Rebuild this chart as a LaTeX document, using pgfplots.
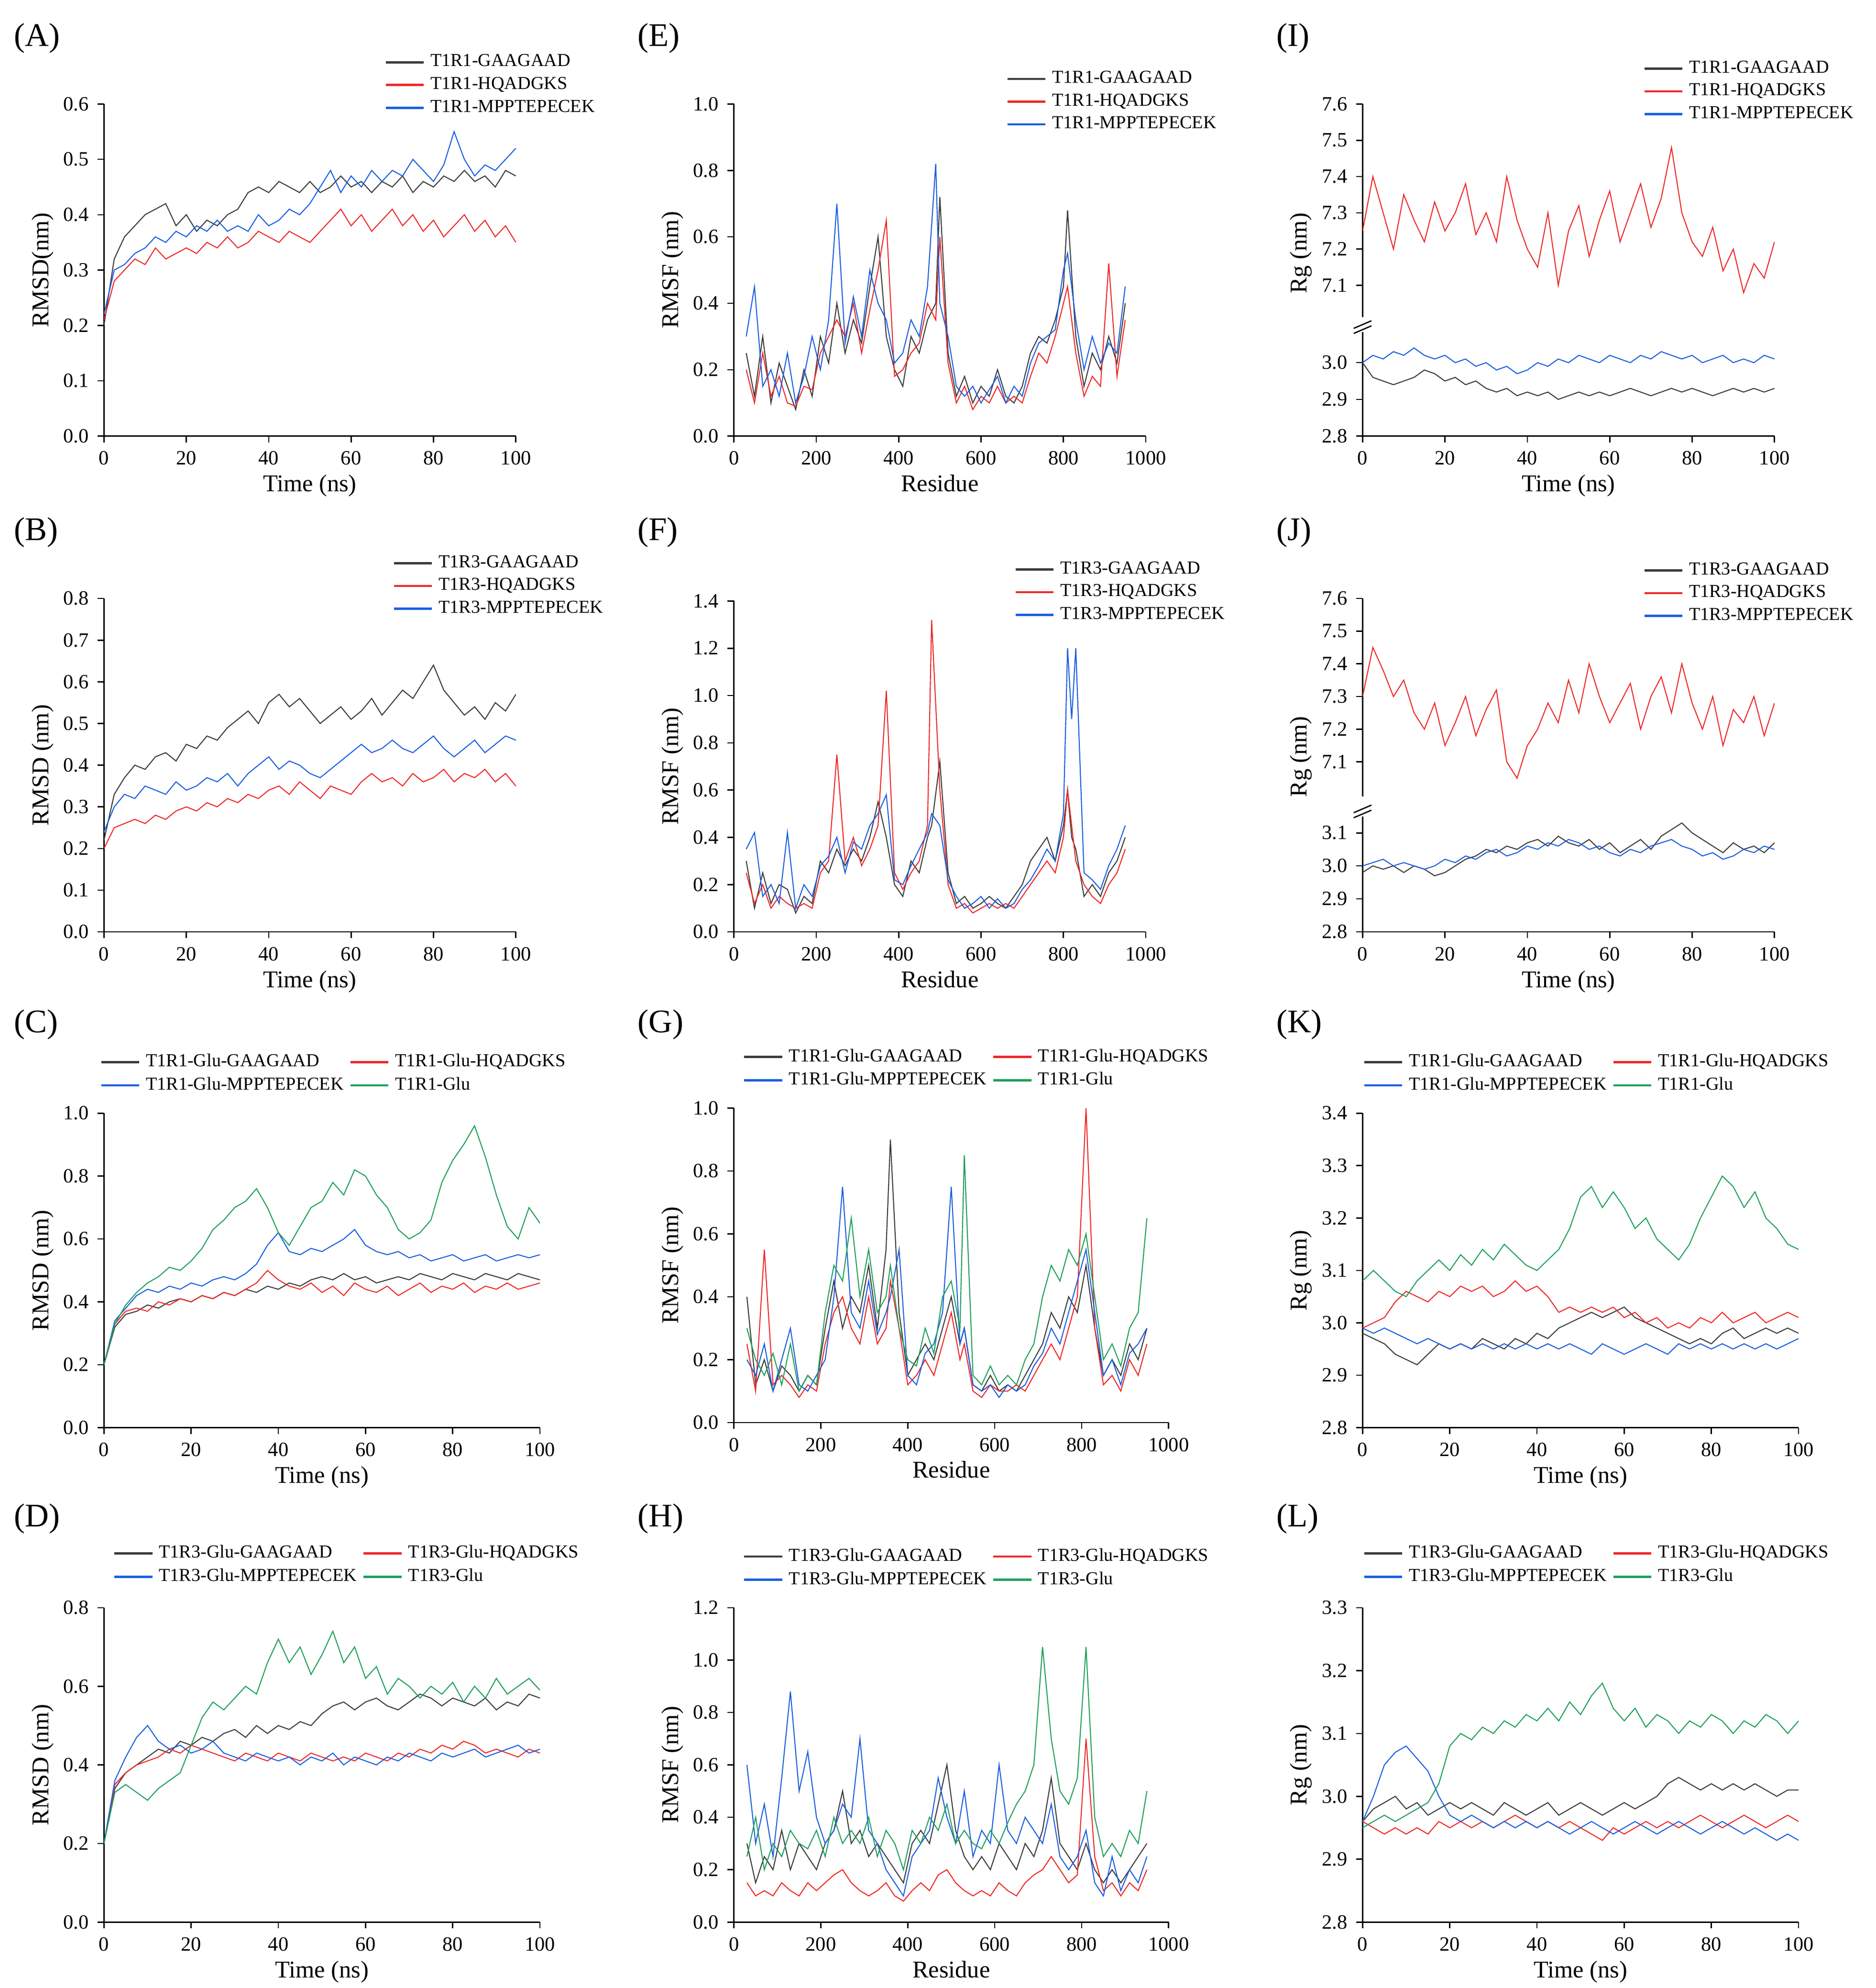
\documentclass[border=0pt]{standalone}
\usepackage{fontspec}
\setmainfont{Liberation Serif}
\usepackage{pgfplots}
\usepackage{pgfplotstable}
\pgfplotsset{compat=1.18}
\definecolor{ck}{RGB}{60,60,60}
\definecolor{cr}{RGB}{240,40,40}
\definecolor{cb}{RGB}{25,95,225}
\definecolor{cg}{RGB}{30,160,90}
\pgfplotsset{panel/.style={scale only axis, axis x line*=bottom, axis y line*=left, tick align=outside,
 axis line style={-,line width=0.5pt}, major tick length=2.5pt, tick style={black,line width=0.5pt},
 every tick label/.append style={font=\fontsize{8}{9}\selectfont},
 label style={font=\fontsize{9.5}{11}\selectfont},
 legend style={draw=none, fill=none, font=\fontsize{7.2}{8}\selectfont, anchor=north west, row sep=0.3pt, column sep=1pt, inner sep=0pt,
   nodes={inner sep=1.2pt}},
 legend cell align=left, legend image code/.code={\draw[line width=0.9pt,#1] (0pt,0pt) -- (15pt,0pt);},
 no markers, every axis plot/.append style={line width=0.4pt},
 /pgf/number format/assume math mode=true,
 yticklabel style={/pgf/number format/.cd, fixed, fixed zerofill, precision=1},
 xticklabel style={/pgf/number format/.cd, set thousands separator={}},
 xlabel style={yshift=3pt}, ylabel style={yshift=-3pt}},
 ts/.style={xmin=0,xmax=100,xtick={0,20,...,100},xlabel={Time (ns)}},
 rf/.style={xmin=0,xmax=1000,xtick={0,200,...,1000},xlabel={Residue}}}
\newcommand\PL[1]{\addplot[ck] table[x index=0,y=k]{#1};\addplot[cr] table[x index=0,y=r]{#1};\addplot[cb] table[x index=0,y=b]{#1};}
\newcommand\PLG[1]{\PL{#1}\addplot[cg] table[x index=0,y=g]{#1};}

\pgfplotstableread{
t k r b
0 0.20 0.21 0.22
2.5 0.32 0.28 0.30
5 0.36 0.30 0.31
7.5 0.38 0.32 0.33
10 0.40 0.31 0.34
12.5 0.41 0.34 0.36
15 0.42 0.32 0.35
17.5 0.38 0.33 0.37
20 0.40 0.34 0.36
22.5 0.37 0.33 0.38
25 0.39 0.35 0.37
27.5 0.38 0.34 0.39
30 0.40 0.36 0.37
32.5 0.41 0.34 0.38
35 0.44 0.35 0.37
37.5 0.45 0.37 0.40
40 0.44 0.36 0.38
42.5 0.46 0.35 0.39
45 0.45 0.37 0.41
47.5 0.44 0.36 0.40
50 0.46 0.35 0.42
52.5 0.44 0.37 0.45
55 0.45 0.39 0.48
57.5 0.47 0.41 0.44
60 0.45 0.38 0.47
62.5 0.46 0.40 0.45
65 0.44 0.37 0.48
67.5 0.46 0.39 0.46
70 0.45 0.41 0.48
72.5 0.47 0.38 0.47
75 0.44 0.40 0.50
77.5 0.46 0.37 0.48
80 0.45 0.39 0.46
82.5 0.47 0.36 0.49
85 0.46 0.38 0.55
87.5 0.48 0.40 0.50
90 0.46 0.37 0.47
92.5 0.47 0.39 0.49
95 0.45 0.36 0.48
97.5 0.48 0.38 0.50
100 0.47 0.35 0.52
}\tA
\pgfplotstableread{
t k r b
0 0.22 0.20 0.24
2.5 0.33 0.25 0.30
5 0.37 0.26 0.33
7.5 0.40 0.27 0.32
10 0.39 0.26 0.35
12.5 0.42 0.28 0.34
15 0.43 0.27 0.33
17.5 0.41 0.29 0.36
20 0.45 0.30 0.34
22.5 0.44 0.29 0.35
25 0.47 0.31 0.37
27.5 0.46 0.30 0.36
30 0.49 0.32 0.38
32.5 0.51 0.31 0.35
35 0.53 0.33 0.38
37.5 0.50 0.32 0.40
40 0.55 0.34 0.42
42.5 0.57 0.35 0.39
45 0.54 0.33 0.41
47.5 0.56 0.36 0.40
50 0.53 0.34 0.38
52.5 0.50 0.32 0.37
55 0.52 0.35 0.39
57.5 0.54 0.34 0.41
60 0.51 0.33 0.43
62.5 0.53 0.36 0.45
65 0.56 0.38 0.43
67.5 0.52 0.36 0.44
70 0.55 0.37 0.46
72.5 0.58 0.35 0.44
75 0.56 0.38 0.43
77.5 0.60 0.36 0.45
80 0.64 0.37 0.47
82.5 0.58 0.39 0.44
85 0.55 0.36 0.42
87.5 0.52 0.38 0.44
90 0.54 0.37 0.46
92.5 0.51 0.39 0.43
95 0.55 0.36 0.45
97.5 0.53 0.38 0.47
100 0.57 0.35 0.46
}\tB
\pgfplotstableread{
t k r b g
0 0.20 0.20 0.20 0.20
2.5 0.32 0.33 0.34 0.33
5 0.36 0.37 0.38 0.39
7.5 0.37 0.38 0.42 0.43
10 0.39 0.37 0.44 0.46
12.5 0.38 0.40 0.43 0.48
15 0.40 0.39 0.45 0.51
17.5 0.41 0.41 0.44 0.50
20 0.40 0.40 0.46 0.53
22.5 0.42 0.42 0.45 0.57
25 0.41 0.41 0.47 0.63
27.5 0.43 0.43 0.48 0.66
30 0.42 0.42 0.47 0.70
32.5 0.44 0.44 0.49 0.72
35 0.43 0.46 0.52 0.76
37.5 0.45 0.50 0.58 0.70
40 0.44 0.47 0.62 0.62
42.5 0.46 0.45 0.56 0.58
45 0.45 0.44 0.55 0.64
47.5 0.47 0.46 0.57 0.70
50 0.48 0.43 0.56 0.72
52.5 0.47 0.45 0.58 0.78
55 0.49 0.42 0.60 0.74
57.5 0.47 0.46 0.63 0.82
60 0.48 0.44 0.58 0.80
62.5 0.46 0.43 0.56 0.74
65 0.47 0.45 0.55 0.70
67.5 0.48 0.42 0.56 0.63
70 0.47 0.44 0.54 0.60
72.5 0.49 0.46 0.55 0.62
75 0.48 0.43 0.53 0.66
77.5 0.47 0.45 0.54 0.78
80 0.49 0.44 0.55 0.85
82.5 0.48 0.46 0.53 0.90
85 0.47 0.43 0.54 0.96
87.5 0.49 0.45 0.55 0.86
90 0.48 0.44 0.53 0.74
92.5 0.47 0.46 0.54 0.64
95 0.49 0.44 0.55 0.60
97.5 0.48 0.45 0.54 0.70
100 0.47 0.46 0.55 0.65
}\tC
\pgfplotstableread{
t k r b g
0 0.20 0.20 0.20 0.20
2.5 0.34 0.35 0.36 0.33
5 0.38 0.38 0.42 0.35
7.5 0.40 0.40 0.47 0.33
10 0.42 0.41 0.50 0.31
12.5 0.44 0.42 0.46 0.34
15 0.43 0.44 0.44 0.36
17.5 0.46 0.43 0.45 0.38
20 0.45 0.45 0.43 0.45
22.5 0.47 0.44 0.44 0.52
25 0.46 0.43 0.46 0.56
27.5 0.48 0.42 0.43 0.54
30 0.49 0.41 0.42 0.57
32.5 0.47 0.43 0.41 0.60
35 0.50 0.42 0.43 0.58
37.5 0.48 0.41 0.42 0.66
40 0.50 0.43 0.41 0.72
42.5 0.49 0.42 0.42 0.66
45 0.51 0.41 0.40 0.70
47.5 0.50 0.43 0.42 0.63
50 0.53 0.42 0.41 0.68
52.5 0.55 0.41 0.43 0.74
55 0.56 0.42 0.40 0.66
57.5 0.54 0.41 0.42 0.70
60 0.56 0.43 0.41 0.62
62.5 0.57 0.42 0.40 0.65
65 0.55 0.41 0.42 0.58
67.5 0.54 0.43 0.41 0.62
70 0.56 0.42 0.43 0.60
72.5 0.58 0.44 0.42 0.57
75 0.57 0.43 0.41 0.60
77.5 0.55 0.45 0.43 0.58
80 0.57 0.44 0.42 0.61
82.5 0.56 0.46 0.43 0.56
85 0.55 0.45 0.44 0.60
87.5 0.57 0.43 0.42 0.57
90 0.54 0.44 0.43 0.62
92.5 0.56 0.43 0.44 0.58
95 0.55 0.42 0.45 0.60
97.5 0.58 0.44 0.43 0.62
100 0.57 0.43 0.44 0.59
}\tD
\pgfplotstableread{
x k r b
30 0.25 0.20 0.30
50 0.12 0.10 0.45
70 0.30 0.25 0.15
90 0.10 0.12 0.20
110 0.22 0.18 0.12
130 0.15 0.10 0.25
150 0.08 0.09 0.10
170 0.20 0.15 0.18
190 0.12 0.14 0.30
210 0.30 0.25 0.20
230 0.22 0.30 0.35
250 0.40 0.35 0.70
270 0.25 0.30 0.28
290 0.35 0.40 0.42
310 0.28 0.25 0.30
330 0.45 0.38 0.50
350 0.60 0.50 0.40
370 0.30 0.65 0.35
390 0.20 0.18 0.22
410 0.15 0.20 0.25
430 0.30 0.25 0.35
450 0.25 0.28 0.30
470 0.35 0.40 0.45
490 0.40 0.35 0.82
500 0.72 0.60 0.40
520 0.25 0.22 0.30
540 0.12 0.10 0.15
560 0.18 0.15 0.12
580 0.10 0.08 0.15
600 0.15 0.12 0.10
620 0.12 0.10 0.14
640 0.20 0.15 0.18
660 0.12 0.10 0.10
680 0.10 0.12 0.15
700 0.15 0.10 0.12
720 0.25 0.18 0.22
740 0.30 0.25 0.28
760 0.28 0.22 0.30
780 0.35 0.30 0.32
800 0.45 0.40 0.50
810 0.68 0.45 0.55
830 0.30 0.25 0.35
850 0.15 0.12 0.20
870 0.25 0.18 0.30
890 0.20 0.15 0.22
910 0.30 0.52 0.28
930 0.22 0.18 0.25
950 0.40 0.35 0.45
}\tE
\pgfplotstableread{
x k r b
30 0.30 0.25 0.35
50 0.10 0.12 0.42
70 0.25 0.20 0.15
90 0.12 0.10 0.20
110 0.20 0.15 0.12
130 0.18 0.12 0.42
150 0.08 0.10 0.10
170 0.15 0.12 0.20
190 0.12 0.10 0.15
210 0.30 0.25 0.28
230 0.25 0.30 0.32
250 0.35 0.75 0.40
270 0.28 0.30 0.25
290 0.35 0.40 0.38
310 0.30 0.28 0.35
330 0.40 0.35 0.45
350 0.55 0.45 0.50
370 0.40 1.02 0.58
390 0.20 0.25 0.22
410 0.15 0.18 0.20
430 0.30 0.25 0.28
450 0.25 0.30 0.35
470 0.40 0.45 0.42
480 0.45 1.32 0.50
500 0.72 0.60 0.45
520 0.25 0.20 0.22
540 0.12 0.10 0.15
560 0.15 0.12 0.10
580 0.10 0.08 0.12
600 0.12 0.10 0.15
620 0.15 0.12 0.10
640 0.12 0.10 0.14
660 0.10 0.12 0.10
680 0.15 0.10 0.12
700 0.20 0.15 0.18
720 0.30 0.20 0.22
740 0.35 0.25 0.28
760 0.40 0.30 0.35
780 0.30 0.25 0.30
800 0.45 0.40 0.50
810 0.60 0.60 1.20
820 0.40 0.45 0.90
830 0.35 0.30 1.20
850 0.15 0.20 0.25
870 0.20 0.15 0.22
890 0.15 0.12 0.18
910 0.25 0.20 0.28
930 0.30 0.25 0.35
950 0.40 0.35 0.45
}\tF
\pgfplotstableread{
x k r b g
30 0.40 0.25 0.20 0.30
50 0.12 0.10 0.15 0.20
70 0.20 0.55 0.25 0.15
90 0.10 0.12 0.10 0.22
110 0.18 0.15 0.20 0.12
130 0.15 0.12 0.30 0.25
150 0.10 0.08 0.12 0.10
170 0.15 0.12 0.10 0.15
190 0.12 0.10 0.15 0.12
210 0.30 0.25 0.20 0.35
230 0.45 0.35 0.40 0.50
250 0.30 0.40 0.75 0.45
270 0.40 0.30 0.35 0.65
290 0.35 0.25 0.30 0.40
310 0.50 0.40 0.45 0.55
330 0.30 0.25 0.28 0.35
350 0.55 0.30 0.35 0.40
360 0.90 0.45 0.40 0.50
380 0.35 0.30 0.55 0.30
400 0.15 0.12 0.15 0.20
420 0.20 0.15 0.12 0.18
440 0.25 0.20 0.22 0.30
460 0.20 0.15 0.25 0.22
480 0.30 0.25 0.35 0.40
500 0.40 0.35 0.75 0.45
520 0.25 0.20 0.25 0.30
530 0.30 0.25 0.30 0.85
550 0.12 0.10 0.12 0.15
570 0.10 0.08 0.10 0.12
590 0.15 0.12 0.12 0.18
610 0.10 0.10 0.08 0.12
630 0.12 0.10 0.12 0.15
650 0.10 0.12 0.10 0.12
670 0.15 0.10 0.12 0.20
690 0.20 0.15 0.18 0.25
710 0.25 0.20 0.22 0.40
730 0.35 0.25 0.30 0.50
750 0.30 0.20 0.25 0.45
770 0.40 0.30 0.35 0.55
790 0.35 0.40 0.45 0.50
810 0.50 1.00 0.55 0.60
830 0.30 0.30 0.35 0.40
850 0.15 0.12 0.15 0.20
870 0.20 0.15 0.20 0.25
890 0.15 0.10 0.12 0.18
910 0.25 0.20 0.22 0.30
930 0.20 0.15 0.25 0.35
950 0.30 0.25 0.30 0.65
}\tG
\pgfplotstableread{
x k r b g
30 0.30 0.15 0.60 0.25
50 0.15 0.10 0.30 0.40
70 0.25 0.12 0.45 0.20
90 0.20 0.10 0.25 0.30
110 0.35 0.15 0.55 0.25
130 0.20 0.12 0.88 0.35
150 0.30 0.10 0.50 0.30
170 0.25 0.15 0.65 0.28
190 0.20 0.12 0.40 0.35
210 0.30 0.15 0.30 0.25
230 0.35 0.18 0.35 0.40
250 0.50 0.20 0.45 0.30
270 0.30 0.15 0.40 0.35
290 0.35 0.12 0.70 0.30
310 0.25 0.10 0.35 0.40
330 0.30 0.12 0.30 0.25
350 0.25 0.15 0.20 0.35
370 0.20 0.10 0.15 0.30
390 0.15 0.08 0.10 0.20
410 0.30 0.12 0.25 0.35
430 0.35 0.15 0.30 0.30
450 0.30 0.12 0.35 0.40
470 0.45 0.18 0.55 0.35
490 0.60 0.20 0.40 0.45
510 0.35 0.15 0.30 0.30
530 0.25 0.12 0.50 0.35
550 0.20 0.10 0.25 0.30
570 0.25 0.12 0.35 0.28
590 0.20 0.10 0.30 0.35
610 0.30 0.15 0.60 0.30
630 0.25 0.12 0.35 0.38
650 0.20 0.10 0.30 0.45
670 0.30 0.15 0.40 0.50
690 0.25 0.18 0.35 0.60
710 0.35 0.20 0.30 1.05
730 0.55 0.25 0.45 0.70
750 0.30 0.20 0.25 0.50
770 0.25 0.15 0.20 0.45
790 0.20 0.18 0.25 0.55
810 0.30 0.70 0.35 1.05
830 0.20 0.25 0.15 0.40
850 0.15 0.12 0.10 0.25
870 0.20 0.15 0.25 0.30
890 0.15 0.10 0.12 0.25
910 0.20 0.15 0.20 0.35
930 0.25 0.12 0.15 0.30
950 0.30 0.20 0.25 0.50
}\tH
\pgfplotstableread{
t k b r
0 3.00 3.00 7.25
2.5 2.96 3.02 7.40
5 2.95 3.01 7.30
7.5 2.94 3.03 7.20
10 2.95 3.02 7.35
12.5 2.96 3.04 7.28
15 2.98 3.02 7.22
17.5 2.97 3.01 7.33
20 2.95 3.02 7.25
22.5 2.96 3.00 7.30
25 2.94 3.01 7.38
27.5 2.95 2.99 7.24
30 2.93 3.00 7.30
32.5 2.92 2.98 7.22
35 2.93 2.99 7.40
37.5 2.91 2.97 7.28
40 2.92 2.98 7.20
42.5 2.91 3.00 7.15
45 2.92 2.99 7.30
47.5 2.90 3.01 7.10
50 2.91 3.00 7.25
52.5 2.92 3.02 7.32
55 2.91 3.01 7.18
57.5 2.92 3.00 7.28
60 2.91 3.02 7.36
62.5 2.92 3.01 7.22
65 2.93 3.00 7.30
67.5 2.92 3.02 7.38
70 2.91 3.01 7.26
72.5 2.92 3.03 7.34
75 2.93 3.02 7.48
77.5 2.92 3.01 7.30
80 2.93 3.02 7.22
82.5 2.92 3.00 7.18
85 2.91 3.01 7.26
87.5 2.92 3.02 7.14
90 2.93 3.00 7.20
92.5 2.92 3.01 7.08
95 2.93 3.00 7.16
97.5 2.92 3.02 7.12
100 2.93 3.01 7.22
}\tI
\pgfplotstableread{
t k b r
0 2.98 3.00 7.30
2.5 3.00 3.01 7.45
5 2.99 3.02 7.38
7.5 3.00 3.00 7.30
10 2.98 3.01 7.35
12.5 3.00 3.00 7.25
15 2.99 2.99 7.20
17.5 2.97 3.00 7.28
20 2.98 3.02 7.15
22.5 3.00 3.01 7.22
25 3.02 3.03 7.30
27.5 3.03 3.02 7.18
30 3.05 3.04 7.26
32.5 3.04 3.05 7.32
35 3.06 3.03 7.10
37.5 3.05 3.04 7.05
40 3.07 3.06 7.15
42.5 3.08 3.05 7.20
45 3.06 3.07 7.28
47.5 3.09 3.06 7.22
50 3.07 3.08 7.35
52.5 3.06 3.07 7.25
55 3.08 3.05 7.40
57.5 3.05 3.06 7.30
60 3.07 3.04 7.22
62.5 3.04 3.03 7.28
65 3.06 3.05 7.34
67.5 3.08 3.04 7.20
70 3.05 3.06 7.30
72.5 3.09 3.07 7.36
75 3.11 3.08 7.25
77.5 3.13 3.06 7.40
80 3.10 3.05 7.28
82.5 3.08 3.03 7.20
85 3.06 3.04 7.30
87.5 3.04 3.02 7.15
90 3.07 3.03 7.26
92.5 3.05 3.05 7.22
95 3.06 3.04 7.30
97.5 3.04 3.06 7.18
100 3.07 3.05 7.28
}\tJ
\pgfplotstableread{
t k r b g
0 2.98 2.99 2.99 3.08
2.5 2.97 3.00 2.98 3.10
5 2.96 3.01 2.99 3.08
7.5 2.94 3.04 2.98 3.06
10 2.93 3.06 2.97 3.05
12.5 2.92 3.05 2.96 3.08
15 2.94 3.04 2.97 3.10
17.5 2.96 3.06 2.96 3.12
20 2.95 3.05 2.95 3.10
22.5 2.96 3.07 2.96 3.13
25 2.95 3.06 2.95 3.11
27.5 2.97 3.07 2.96 3.14
30 2.96 3.05 2.95 3.12
32.5 2.95 3.06 2.96 3.15
35 2.97 3.08 2.95 3.13
37.5 2.96 3.06 2.96 3.11
40 2.98 3.07 2.95 3.10
42.5 2.97 3.05 2.96 3.12
45 2.99 3.02 2.95 3.14
47.5 3.00 3.03 2.96 3.18
50 3.01 3.02 2.95 3.24
52.5 3.02 3.03 2.94 3.26
55 3.01 3.02 2.96 3.22
57.5 3.02 3.03 2.95 3.25
60 3.03 3.01 2.94 3.22
62.5 3.01 3.02 2.95 3.18
65 3.00 3.00 2.96 3.20
67.5 2.99 3.01 2.95 3.16
70 2.98 2.99 2.94 3.14
72.5 2.97 3.00 2.96 3.12
75 2.96 2.99 2.95 3.15
77.5 2.97 3.01 2.96 3.20
80 2.96 3.00 2.95 3.24
82.5 2.98 3.02 2.96 3.28
85 2.99 3.00 2.95 3.26
87.5 2.97 3.01 2.96 3.22
90 2.98 3.02 2.95 3.25
92.5 2.99 3.00 2.96 3.20
95 2.98 3.01 2.95 3.18
97.5 2.99 3.02 2.96 3.15
100 2.98 3.01 2.97 3.14
}\tK
\pgfplotstableread{
t k r b g
0 2.96 2.96 2.96 2.95
2.5 2.98 2.95 3.00 2.96
5 2.99 2.94 3.05 2.97
7.5 3.00 2.95 3.07 2.96
10 2.98 2.94 3.08 2.97
12.5 2.99 2.95 3.06 2.98
15 2.97 2.94 3.04 2.99
17.5 2.98 2.96 3.00 3.02
20 2.99 2.95 2.97 3.08
22.5 2.98 2.96 2.96 3.10
25 2.99 2.95 2.97 3.09
27.5 2.98 2.96 2.96 3.11
30 2.97 2.95 2.95 3.10
32.5 2.99 2.96 2.96 3.12
35 2.98 2.97 2.95 3.11
37.5 2.97 2.96 2.96 3.13
40 2.98 2.95 2.95 3.12
42.5 2.99 2.96 2.96 3.14
45 2.97 2.95 2.95 3.12
47.5 2.98 2.96 2.94 3.15
50 2.99 2.95 2.95 3.13
52.5 2.98 2.94 2.96 3.16
55 2.97 2.93 2.95 3.18
57.5 2.98 2.95 2.94 3.14
60 2.99 2.94 2.95 3.12
62.5 2.98 2.95 2.96 3.14
65 2.99 2.96 2.95 3.11
67.5 3.00 2.95 2.94 3.13
70 3.02 2.96 2.95 3.12
72.5 3.03 2.95 2.96 3.10
75 3.02 2.96 2.95 3.12
77.5 3.01 2.97 2.94 3.11
80 3.02 2.96 2.95 3.13
82.5 3.01 2.95 2.96 3.12
85 3.02 2.96 2.95 3.10
87.5 3.01 2.97 2.94 3.12
90 3.02 2.96 2.95 3.11
92.5 3.01 2.95 2.94 3.13
95 3.00 2.96 2.93 3.12
97.5 3.01 2.97 2.94 3.10
100 3.01 2.96 2.93 3.12
}\tL

\begin{document}
\begin{tikzpicture}
\useasboundingbox (0,0) rectangle (740pt,-784pt);
\tikzset{lab/.style={anchor=west,font=\fontsize{13}{14}\selectfont}}
\node[lab] at (2pt,-15pt) {(A)};
\node[lab] at (248pt,-15pt) {(E)};
\node[lab] at (500pt,-15pt) {(I)};
\node[lab] at (2pt,-210pt) {(B)};
\node[lab] at (248pt,-210pt) {(F)};
\node[lab] at (500pt,-210pt) {(J)};
\node[lab] at (2pt,-404pt) {(C)};
\node[lab] at (248pt,-404pt) {(G)};
\node[lab] at (500pt,-404pt) {(K)};
\node[lab] at (2pt,-599pt) {(D)};
\node[lab] at (248pt,-599pt) {(H)};
\node[lab] at (500pt,-599pt) {(L)};

% A
\begin{axis}[panel,ts,width=162.5pt,height=131pt,at={(41pt,-172pt)},anchor=south west,
 ymin=0,ymax=0.6,ytick={0,0.1,...,0.6},ylabel={RMSD(nm)},legend style={at={(0.68,1.16)}}]
\PL{\tA}
\legend{T1R1-GAAGAAD,T1R1-HQADGKS,T1R1-MPPTEPECEK}
\end{axis}
% B
\begin{axis}[panel,ts,width=162.5pt,height=131.5pt,at={(41pt,-367.5pt)},anchor=south west,
 ymin=0,ymax=0.8,ytick={0,0.1,...,0.8},ylabel={RMSD (nm)},legend style={at={(0.70,1.14)}}]
\PL{\tB}
\legend{T1R3-GAAGAAD,T1R3-HQADGKS,T1R3-MPPTEPECEK}
\end{axis}
% C
\begin{axis}[panel,ts,width=172pt,height=124pt,at={(41pt,-563pt)},anchor=south west,
 ymin=0,ymax=1.0,ytick={0,0.2,...,1.0},ylabel={RMSD (nm)},legend columns=2,legend style={at={(-0.01,1.2)}}]
\PLG{\tC}
\legend{T1R1-Glu-GAAGAAD,T1R1-Glu-HQADGKS,T1R1-Glu-MPPTEPECEK,T1R1-Glu}
\end{axis}
% D
\begin{axis}[panel,ts,width=172pt,height=124pt,at={(41pt,-758pt)},anchor=south west,
 ymin=0,ymax=0.8,ytick={0,0.2,...,0.8},ylabel={RMSD (nm)},legend columns=2,legend style={at={(0.02,1.21)}}]
\PLG{\tD}
\legend{T1R3-Glu-GAAGAAD,T1R3-Glu-HQADGKS,T1R3-Glu-MPPTEPECEK,T1R3-Glu}
\end{axis}
% E
\begin{axis}[panel,rf,width=162.5pt,height=131pt,at={(289.5pt,-172pt)},anchor=south west,
 ymin=0,ymax=1.0,ytick={0,0.2,...,1.0},ylabel={RMSF (nm)},legend style={at={(0.66,1.11)}}]
\PL{\tE}
\legend{T1R1-GAAGAAD,T1R1-HQADGKS,T1R1-MPPTEPECEK}
\end{axis}
% F
\begin{axis}[panel,rf,width=162.5pt,height=130.5pt,at={(289.5pt,-367.5pt)},anchor=south west,
 ymin=0,ymax=1.4,ytick={0,0.2,...,1.4},ylabel={RMSF (nm)},legend style={at={(0.68,1.13)}}]
\PL{\tF}
\legend{T1R3-GAAGAAD,T1R3-HQADGKS,T1R3-MPPTEPECEK}
\end{axis}
% G
\begin{axis}[panel,rf,width=171.5pt,height=124pt,at={(289.5pt,-561pt)},anchor=south west,
 ymin=0,ymax=1.0,ytick={0,0.2,...,1.0},ylabel={RMSF (nm)},legend columns=2,legend style={at={(0.02,1.2)}}]
\PLG{\tG}
\legend{T1R1-Glu-GAAGAAD,T1R1-Glu-HQADGKS,T1R1-Glu-MPPTEPECEK,T1R1-Glu}
\end{axis}
% H
\begin{axis}[panel,rf,width=171.5pt,height=124pt,at={(289.5pt,-758pt)},anchor=south west,
 ymin=0,ymax=1.2,ytick={0,0.2,...,1.2},ylabel={RMSF (nm)},legend columns=2,legend style={at={(0.02,1.2)}}]
\PLG{\tH}
\legend{T1R3-Glu-GAAGAAD,T1R3-Glu-HQADGKS,T1R3-Glu-MPPTEPECEK,T1R3-Glu}
\end{axis}
% I lower
\begin{axis}[panel,ts,width=162.5pt,height=41pt,at={(537.5pt,-172pt)},anchor=south west,
 ymin=2.8,ymax=3.083,ytick={2.8,2.9,3.0}]
\addplot[ck] table[x=t,y=k]{\tI};
\addplot[cb] table[x=t,y=b]{\tI};
\end{axis}
% I upper
\begin{axis}[panel,axis x line=none,width=162.5pt,height=84pt,at={(537.5pt,-125pt)},anchor=south west,
 xmin=0,xmax=100,ymin=7.013,ymax=7.6,ytick={7.1,7.2,...,7.6},ylabel={Rg (nm)},
 ylabel style={yshift=0pt,at={(ticklabel cs:0.3)}},legend style={at={(0.68,1.22)}}]
\addlegendimage{ck}\addlegendentry{T1R1-GAAGAAD}
\addplot[cr] table[x=t,y=r]{\tI};\addlegendentry{T1R1-HQADGKS}
\addlegendimage{cb}\addlegendentry{T1R1-MPPTEPECEK}
\end{axis}
% J lower
\begin{axis}[panel,ts,width=162.5pt,height=47.5pt,at={(537.5pt,-367.5pt)},anchor=south west,
 ymin=2.8,ymax=3.165,ytick={2.8,2.9,3.0,3.1}]
\addplot[ck] table[x=t,y=k]{\tJ};
\addplot[cb] table[x=t,y=b]{\tJ};
\end{axis}
% J upper
\begin{axis}[panel,axis x line=none,width=162.5pt,height=78pt,at={(537.5pt,-314pt)},anchor=south west,
 xmin=0,xmax=100,ymin=6.995,ymax=7.6,ytick={7.1,7.2,...,7.6},ylabel={Rg (nm)},
 ylabel style={yshift=0pt,at={(ticklabel cs:0.2)}},legend style={at={(0.68,1.2)}}]
\addlegendimage{ck}\addlegendentry{T1R3-GAAGAAD}
\addplot[cr] table[x=t,y=r]{\tJ};\addlegendentry{T1R3-HQADGKS}
\addlegendimage{cb}\addlegendentry{T1R3-MPPTEPECEK}
\end{axis}
% break marks
\foreach \yy in {-129pt,-320pt}{
 \draw[white,line width=2pt] (537.5pt,\yy+2pt) -- (537.5pt,\yy-2pt);
 \draw[line width=0.5pt] (534pt,\yy-2.5pt) -- (541pt,\yy+0.5pt);
 \draw[line width=0.5pt] (534pt,\yy-0.5pt) -- (541pt,\yy+2.5pt);}
% K
\begin{axis}[panel,ts,width=172pt,height=124pt,at={(537.5pt,-563pt)},anchor=south west,
 ymin=2.8,ymax=3.4,ytick={2.8,2.9,...,3.4},ylabel={Rg (nm)},legend columns=2,legend style={at={(0.0,1.2)}}]
\PLG{\tK}
\legend{T1R1-Glu-GAAGAAD,T1R1-Glu-HQADGKS,T1R1-Glu-MPPTEPECEK,T1R1-Glu}
\end{axis}
% L
\begin{axis}[panel,ts,width=172pt,height=124pt,at={(537.5pt,-758pt)},anchor=south west,
 ymin=2.8,ymax=3.3,ytick={2.8,2.9,...,3.3},ylabel={Rg (nm)},legend columns=2,legend style={at={(0.0,1.21)}}]
\PLG{\tL}
\legend{T1R3-Glu-GAAGAAD,T1R3-Glu-HQADGKS,T1R3-Glu-MPPTEPECEK,T1R3-Glu}
\end{axis}
\end{tikzpicture}
\end{document}
